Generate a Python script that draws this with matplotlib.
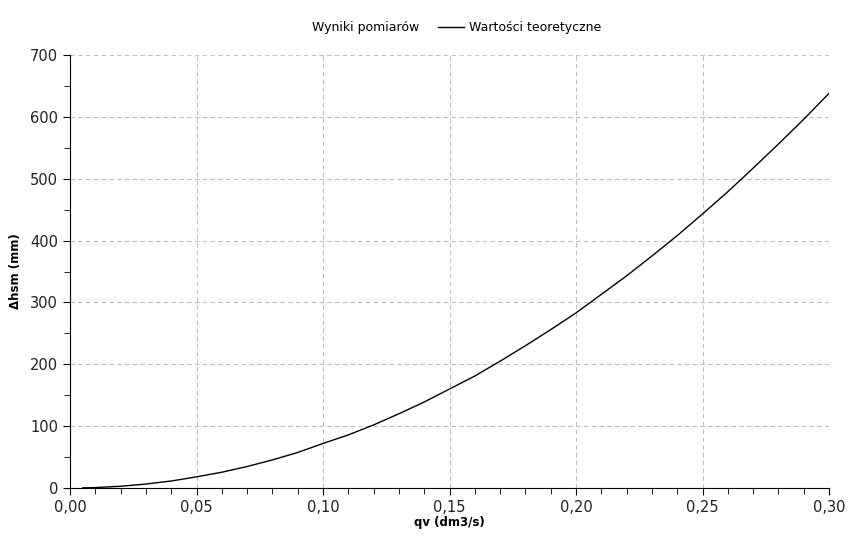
import matplotlib
matplotlib.use("Agg")
import matplotlib.pyplot as plt
from matplotlib.lines import Line2D
from matplotlib.ticker import MultipleLocator, FuncFormatter

# Teoretyczna krzywa
qv = [0.005, 0.01, 0.02, 0.03, 0.04, 0.05, 0.06, 0.07, 0.08, 0.09,
      0.10, 0.11, 0.12, 0.13, 0.14, 0.15, 0.16, 0.17, 0.18, 0.19,
      0.20, 0.21, 0.22, 0.23, 0.24, 0.25, 0.26, 0.27, 0.28, 0.29, 0.30]
dh_teor = [0.2, 0.7, 2.8, 6.4, 11.3, 18.0, 25.5, 34.7, 45.4, 57.4,
           72.0, 85.8, 102.0, 120.0, 139.0, 160.0, 181.0, 205.0, 230.0, 256.0,
           283.0, 313.0, 343.0, 375.0, 408.0, 443.0, 479.0, 517.0, 556.0, 596.0,
           638.0]

# Wyniki pomiarow - brak punktow na wykresie
qv_pom = []
dh_pom = []

fig = plt.figure(figsize=(8.65, 5.45), dpi=100)
ax = fig.add_axes([70 / 865, 1 - 488 / 545, (829 - 70) / 865, (488 - 55) / 545])

ax.plot(qv_pom, dh_pom, linestyle="none")
ax.plot(qv, dh_teor, color="black", linewidth=1.0)

ax.set_xlim(0, 0.30)
ax.set_ylim(0, 700)
ax.xaxis.set_major_locator(MultipleLocator(0.05))
ax.xaxis.set_minor_locator(MultipleLocator(0.01))
ax.yaxis.set_major_locator(MultipleLocator(100))
ax.yaxis.set_minor_locator(MultipleLocator(50))
ax.xaxis.set_major_formatter(FuncFormatter(lambda v, p: f"{v:.2f}".replace(".", ",")))

ax.grid(True, which="major", color="#c0c0c0", linestyle=(0, (4, 3)), linewidth=0.8)
ax.set_axisbelow(True)
for side in ["top", "right"]:
    ax.spines[side].set_visible(False)
ax.tick_params(which="major", direction="out", length=5, labelsize=10.5,
               color="black", labelcolor="#222222")
ax.tick_params(which="minor", direction="out", length=4)

ax.set_xlabel("qv (dm3/s)", fontsize=8.5, fontweight="bold", labelpad=1)
ax.set_ylabel("Δhsm (mm)", fontsize=8.5, fontweight="bold", labelpad=6)

handles = [Line2D([], [], linestyle="none"),
           Line2D([], [], color="black", linewidth=1.0)]
fig.legend(handles, ["Wyniki pomiarów", "Wartości teoretyczne"],
           loc="center", bbox_to_anchor=(441 / 865, 1 - 28 / 545), ncol=2,
           frameon=False, fontsize=9, handlelength=2.1, columnspacing=1.5,
           handletextpad=0.4)

fig.savefig("out.png", dpi=100)
